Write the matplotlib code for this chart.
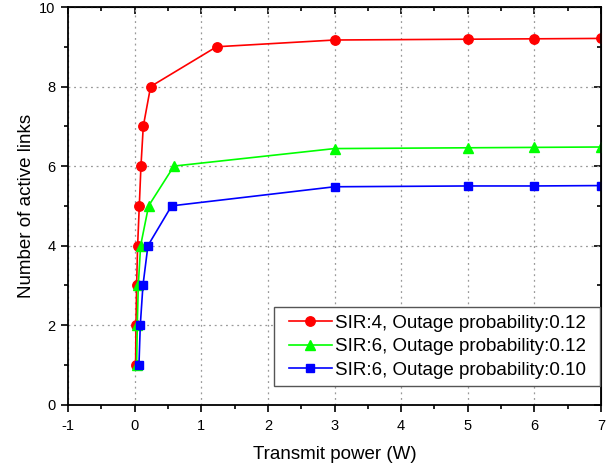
import matplotlib
matplotlib.use("Agg")
import matplotlib.pyplot as plt
from matplotlib.ticker import MultipleLocator
from matplotlib.path import Path

plt.rcParams['font.family'] = ['Liberation Sans', 'DejaVu Sans']
plt.rcParams['axes.unicode_minus'] = False

# Data
red_x = [0.015, 0.02, 0.03, 0.045, 0.07, 0.095, 0.13, 0.24, 1.23, 3, 5, 6, 7]
red_y = [1, 2, 3, 4, 5, 6, 7, 8, 9, 9.17, 9.19, 9.2, 9.21]
green_x = [0.03, 0.04, 0.055, 0.09, 0.21, 0.59, 3, 5, 6, 7]
green_y = [1, 2, 3, 4, 5, 6, 6.44, 6.46, 6.47, 6.48]
blue_x = [0.065, 0.085, 0.125, 0.2, 0.555, 3, 5, 6, 7]
blue_y = [1, 2, 3, 4, 5, 5.48, 5.5, 5.5, 5.51]
labels = ["SIR:4, Outage probability:0.12",
          "SIR:6, Outage probability:0.12",
          "SIR:6, Outage probability:0.10"]

fig = plt.figure(figsize=(6.13, 4.70), dpi=100)
L, R, T, B = 68, 601, 7, 404.7
ax = fig.add_axes([L/613, (470-B)/470, (R-L)/613, (B-T)/470])

ax.plot(red_x, red_y, color='#ff0000', marker='o', markersize=6.8, lw=1.2, label=labels[0])
ax.plot(green_x, green_y, color='#00ff00', marker='^', markersize=7.5, lw=1.2, label=labels[1])
ax.plot(blue_x, blue_y, color='#0000ff', marker='s', markersize=6.2, lw=1.2, label=labels[2])

ax.set_xlim(-1, 7)
ax.set_ylim(0, 10)
ax.xaxis.set_major_locator(MultipleLocator(1))
ax.xaxis.set_minor_locator(MultipleLocator(0.5))
ax.yaxis.set_major_locator(MultipleLocator(2))
ax.yaxis.set_minor_locator(MultipleLocator(1))
ax.grid(True, which='major', linestyle=(0, (1.5, 3)), color='#999999', lw=0.9)

ax.tick_params(which='both', direction='out', labelsize=10.5, width=1.2)
ax.tick_params(which='major', length=5)
ax.tick_params(which='minor', length=3)
ax.tick_params(axis='x', which='major', pad=5)
ax.tick_params(axis='y', which='major', pad=4)
for s in ax.spines.values():
    s.set_linewidth(1.3)

# mirrored ticks on top/right (inward)
axt = ax.secondary_xaxis('top')
axt.xaxis.set_major_locator(MultipleLocator(1))
axt.xaxis.set_minor_locator(MultipleLocator(0.5))
axt.tick_params(which='both', direction='in', labeltop=False, width=1.2)
axt.tick_params(which='major', length=5)
axt.tick_params(which='minor', length=3)
axr = ax.secondary_yaxis('right')
axr.yaxis.set_major_locator(MultipleLocator(2))
axr.yaxis.set_minor_locator(MultipleLocator(1))
axr.tick_params(which='both', direction='in', labelright=False, width=1.2)
axr.tick_params(which='major', length=5)
axr.tick_params(which='minor', length=3)

ax.set_xlabel("Transmit power (W)", fontsize=13.5, labelpad=10)
ax.set_ylabel("Number of active links", fontsize=13.5, labelpad=3)

leg = ax.legend(loc='lower right', bbox_to_anchor=(0.985, 0.047), fontsize=13.5,
                fancybox=False, framealpha=1, edgecolor='#555555', borderaxespad=0,
                handlelength=2.3, handletextpad=0.15, labelspacing=0.33, borderpad=0.4)


def wide_box(x0, y0, width, height, mutation_size):
    padx = 0.38 * mutation_size
    x0 -= padx
    x1 = x0 + width + 2 * padx
    y1 = y0 + height
    return Path([(x0, y0), (x1, y0), (x1, y1), (x0, y1), (x0, y0)],
                closed=True)


leg.get_frame().set_boxstyle(wide_box)
leg.get_frame().set_linewidth(1.0)

fig.savefig("out.png", dpi=100)
